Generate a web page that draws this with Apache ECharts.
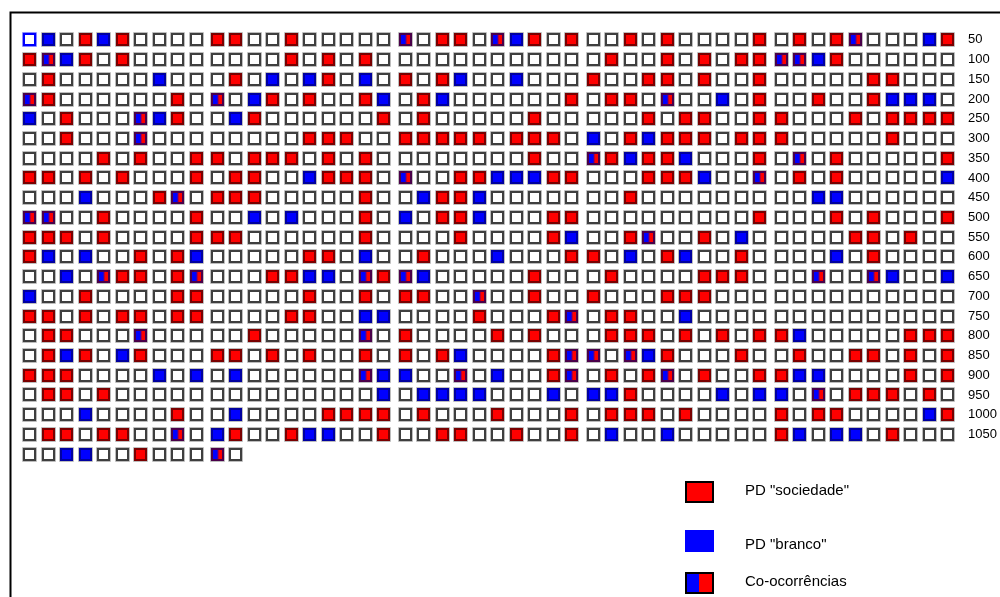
<!DOCTYPE html>
<html><head><meta charset="utf-8">
<script src="https://cdn.jsdelivr.net/npm/echarts@6/dist/echarts.min.js"></script>
<style>html,body{margin:0;padding:0;background:#fff}#chart{width:1000px;height:597px}</style>
</head><body><div id="chart"></div>
<script>
// Row labels (right side), one per row of 50 cells
const rowLabels = ['50','100','150','200','250','300','350','400','450','500','550','600','650','700','750','800','850','900','950','1000','1050',''];
// Cell codes: '.' none, 'R' PD "sociedade", 'B' PD "branco", 'S' co-occurrence (spaces only separate groups of ten)
const rowCodes = [
  '.B.RBR.... RR..R..... S.RR.SBR.R ..R.R....R .R.RS...BR',
  'RSBR.R.... ....R.R.R. .......... .R..R.R.RR SSBR......',
  '.R.....B.. .R.B.BR.B. R.RB..B... R..RR.R..R .....RR...',
  'SR......R. S.BR.R..RB .RB......R .RR.S..B.R ..R..RBBB.',
  'B.R...SBR. .BR......R .R.....R.. ...R.RR..R R...R.RRRR',
  '..R...S... .....RRR.. RRRRR.RRR. B.RBRRR.RR R.....R...',
  '....R.R..R R.RRR.R.R. .......R.. SRBRRB...R .S.R.....R',
  'RR.R.R...R .RR..BRRR. S..RRBBBRR ...RRRB..S .R.R.....B',
  '...B...RS. RRR.....R. .BRRB..... ..R....... ..BB......',
  'SS..R....R ..B.B...R. B.RRB...RR .........R ...R.R...R',
  'RRR.R....R RR......R. ...R....RB ..RS..R.B. ....RR.R..',
  'RB.B..R.RB .....RR.B. .R...B...R R.B.RB..R. ...B.R....',
  '..B.SRR.RS ...RRBB.SR SB.....R.. .R....RRR. ..S..SB..B',
  'B..R....RR .....R..R. RR..S..R.. R...RRR... ..........',
  'RR.R.RR.RR ....RR..BB ....R...RS .RR..B.... ..........',
  '.RR...S... ..R.....S. R....R.R.. .RRR.R.R.R RB.....RRR',
  '.RBR.BR... RR.R.R..R. R.RB....RS S.SBR...R. .R..RR.R.R',
  'RRR....B.B .B......SB B..S.B..RS .R.RS.R..R RBB....R.R',
  '.RR.R..... .........B .BBBB...B. BBR....B.B B.S.RRR.R.',
  '...B....R. .B....RRRR .R...R...R .RRR.R.... R.RR....BR',
  '.RR.RR..S. BR..RBB..R ..RR..R..R .B..B..... RB.BB.R...',
  '..BB..R... S.'
];
const legendLabels = ['PD "sociedade"', 'PD "branco"', 'Co-ocorrências'];
const selectedCell = [0, 0]; // [row, column] drawn with the blue focus frame
const groupSize = 10;       // columns are grouped in tens
const groupGap = 0.16;      // extra spacing between groups (in column units)

const typeIndex = { '.': 0, 'R': 1, 'B': 2, 'S': 3 };
function colPos(c) { return c + Math.floor(c / groupSize) * groupGap; }

const cells = [];
rowCodes.forEach(function (code, r) {
  const s = code.replace(/ /g, '');
  for (let c = 0; c < s.length; c++) {
    const sel = (r === selectedCell[0] && c === selectedCell[1]) ? 1 : 0;
    cells.push([colPos(c), r, typeIndex[s[c]], sel]);
  }
});
const xMax = colPos(49) + 0.5;

const RED = '#ff0000', BLUE = '#0000ff';

function renderCell(params, api) {
  const p = api.coord([api.value(0), api.value(1)]);
  const unit = api.size([1, 1]);
  const t = api.value(2), sel = api.value(3);
  const w = Math.round(unit[0] * 0.8), h = Math.round(unit[1] * 0.77);
  const x0 = Math.round(p[0] - w / 2), y0 = Math.round(p[1] - h / 2);
  const ch = [];
  // light outer ring
  ch.push({ type: 'rect', shape: { x: x0 + 0.5, y: y0 + 0.5, width: w - 1, height: h - 1 },
    style: { fill: '#fff', stroke: sel ? '#8c8cff' : '#bdbdbd', lineWidth: 1 } });
  // fill
  if (t === 1 || t === 2) {
    ch.push({ type: 'rect', shape: { x: x0 + 1, y: y0 + 1, width: w - 2, height: h - 2 },
      style: { fill: t === 1 ? RED : BLUE } });
  } else if (t === 3) {
    const half = Math.round((w - 2) / 2);
    ch.push({ type: 'rect', shape: { x: x0 + 1, y: y0 + 1, width: half, height: h - 2 }, style: { fill: BLUE } });
    ch.push({ type: 'rect', shape: { x: x0 + 1 + half, y: y0 + 1, width: w - 2 - half, height: h - 2 }, style: { fill: RED } });
    ch.push({ type: 'line', shape: { x1: x0 + 1 + half, y1: y0 + 2, x2: x0 + 1 + half, y2: y0 + h - 2 },
      style: { stroke: '#700070', lineWidth: 1 } });
  }
  // dark border
  let stroke = '#3f3f3f';
  if (sel) stroke = BLUE;
  else if (t === 1) stroke = '#7a0000';
  else if (t === 2) stroke = '#0000a0';
  else if (t === 3) stroke = '#4a004a';
  ch.push({ type: 'rect', shape: { x: x0 + 2, y: y0 + 2, width: w - 4, height: h - 4 },
    style: { fill: 'none', stroke: stroke, lineWidth: 2 } });
  return { type: 'group', children: ch };
}

const chart = echarts.init(document.getElementById('chart'), null, { renderer: 'canvas' });
const legendX = 686, legendTextX = 745;
const legendY = [482, 531, 573];
const legendFont = '15px "Liberation Sans", Arial, sans-serif';
chart.setOption({
  animation: false,
  backgroundColor: '#ffffff',
  grid: { left: 20.3, right: 40.2, top: 30, bottom: 133, containLabel: false },
  xAxis: { type: 'value', min: -0.5, max: xMax, show: false },
  yAxis: {
    type: 'category', data: rowLabels, inverse: true, position: 'right',
    axisLine: { show: false }, axisTick: { show: false }, splitLine: { show: false },
    axisLabel: { show: true, margin: 11, align: 'left', color: '#000',
      fontFamily: 'Liberation Sans, Arial, sans-serif', fontSize: 13 }
  },
  series: [{ type: 'custom', renderItem: renderCell, data: cells, encode: { x: 0, y: 1 }, silent: true }],
  graphic: [
    { type: 'polyline', shape: { points: [[10.5, 597], [10.5, 12.5], [1000, 12.5]] },
      style: { stroke: '#000', lineWidth: 2, fill: 'none' } },
    { type: 'rect', shape: { x: legendX, y: legendY[0], width: 27, height: 20 },
      style: { fill: RED, stroke: '#000', lineWidth: 2 } },
    { type: 'rect', shape: { x: legendX, y: legendY[1], width: 27, height: 20 },
      style: { fill: BLUE, stroke: BLUE, lineWidth: 2 } },
    { type: 'rect', shape: { x: legendX, y: legendY[2], width: 13, height: 20 },
      style: { fill: BLUE } },
    { type: 'rect', shape: { x: legendX + 13, y: legendY[2], width: 14, height: 20 },
      style: { fill: RED } },
    { type: 'rect', shape: { x: legendX, y: legendY[2], width: 27, height: 20 },
      style: { fill: 'none', stroke: '#000', lineWidth: 2 } },
    { type: 'text', x: legendTextX, y: legendY[0] + 9, style: { text: legendLabels[0], fill: '#000',
      font: legendFont, textVerticalAlign: 'middle' } },
    { type: 'text', x: legendTextX, y: legendY[1] + 14, style: { text: legendLabels[1], fill: '#000',
      font: legendFont, textVerticalAlign: 'middle' } },
    { type: 'text', x: legendTextX, y: legendY[2] + 9, style: { text: legendLabels[2], fill: '#000',
      font: legendFont, textVerticalAlign: 'middle' } }
  ]
});
</script></body></html>
